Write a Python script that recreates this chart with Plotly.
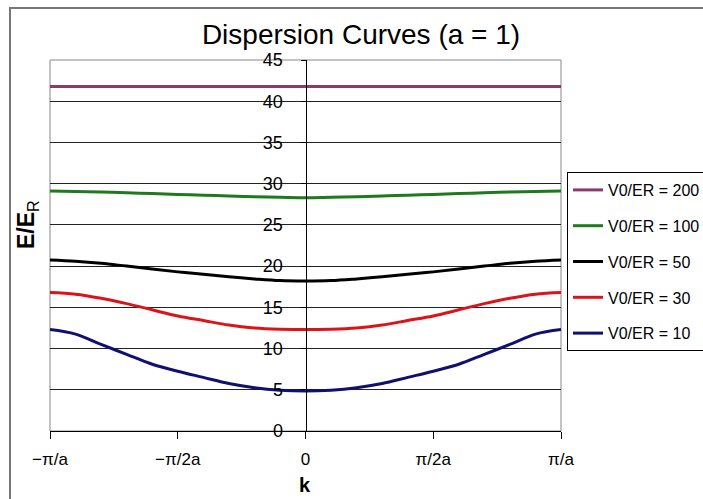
import plotly.graph_objects as go
import math

# k values in units of pi/a
k_over_pi = [-1.0, -0.9, -0.8, -0.7, -0.6, -0.5, -0.4, -0.3, -0.2, -0.1, 0.0,
             0.1, 0.2, 0.3, 0.4, 0.5, 0.6, 0.7, 0.8, 0.9, 1.0]

e_v200 = [41.8] * 21
e_v100 = [29.1, 29.05, 29.0, 28.9, 28.8, 28.7, 28.6, 28.5, 28.4, 28.35, 28.3,
          28.35, 28.4, 28.5, 28.6, 28.7, 28.8, 28.9, 29.0, 29.05, 29.1]
e_v50 = [20.75, 20.6, 20.35, 20.0, 19.65, 19.3, 19.0, 18.7, 18.45, 18.25, 18.2,
         18.25, 18.45, 18.7, 19.0, 19.3, 19.65, 20.0, 20.35, 20.6, 20.75]
e_v30 = [16.8, 16.6, 16.1, 15.45, 14.7, 13.95, 13.4, 12.85, 12.5, 12.35, 12.3,
         12.35, 12.5, 12.85, 13.4, 13.95, 14.7, 15.45, 16.1, 16.6, 16.8]
e_v10 = [12.3, 11.75, 10.5, 9.3, 8.1, 7.25, 6.5, 5.75, 5.25, 4.95, 4.85,
         4.95, 5.25, 5.75, 6.5, 7.25, 8.1, 9.3, 10.5, 11.75, 12.3]

series_names = ["V0/ER = 200", "V0/ER = 100", "V0/ER = 50", "V0/ER = 30", "V0/ER = 10"]
series_values = [e_v200, e_v100, e_v50, e_v30, e_v10]
series_colors = ["#8A3B6C", "#1F7A1F", "#000000", "#DC1419", "#101070"]

x_tick_pos = [-1.0, -0.5, 0.0, 0.5, 1.0]
x_tick_labels = ["\u2212\u03c0/a", "\u2212\u03c0/2a", "0", "\u03c0/2a", "\u03c0/a"]
y_ticks = [0, 5, 10, 15, 20, 25, 30, 35, 40, 45]

kx = [v * math.pi for v in k_over_pi]

fig = go.Figure()
for i, (name, vals, col) in enumerate(zip(series_names, series_values, series_colors)):
    fig.add_trace(go.Scatter(
        x=kx, y=vals, mode="lines", name=name,
        line=dict(color=col, width=3, shape="spline"),
        legendgroup=f"g{i}",
    ))

font = "Arial, Liberation Sans, sans-serif"

# body margin removed below, so figure coords == screen coords
PL, PR, PT, PB = 50, 561, 60, 431
W, H = 703, 499
PW, PH = PR - PL, PB - PT


def px(xs):
    return (xs - PL) / PW


def py(ys):
    return (PB - ys) / PH


fig.update_layout(
    width=W, height=H,
    margin=dict(l=PL, r=W - PR, t=PT, b=H - PB, autoexpand=False),
    paper_bgcolor="white", plot_bgcolor="white",
    font=dict(family=font, color="black"),
    title=dict(text="Dispersion Curves (a = 1)", font=dict(size=28, family=font, color="black"),
               xref="container", x=361 / W, xanchor="center",
               yref="container", y=1 - 34 / H, yanchor="middle"),
    showlegend=True,
    legend=dict(
        x=px(567), xanchor="left", y=py(172), yanchor="top",
        bordercolor="#000000", borderwidth=1, bgcolor="white",
        font=dict(size=16, family=font, color="black"),
        traceorder="grouped", tracegroupgap=12,
    ),
    xaxis=dict(
        range=[-math.pi, math.pi],
        tickmode="array", tickvals=[v * math.pi for v in x_tick_pos], ticktext=x_tick_labels,
        showgrid=False, zeroline=False,
        showline=True, linecolor="#000000", linewidth=1,
        ticks="outside", ticklen=7, tickcolor="#000000",
        tickfont=dict(size=17, family=font, color="black"),
        ticklabelstandoff=6,
    ),
    yaxis=dict(
        range=[0, 45],
        tickmode="array", tickvals=y_ticks,
        anchor="free", position=0.5,
        showgrid=True, gridcolor="#222222", gridwidth=1,
        zeroline=False,
        showline=True, linecolor="#000000", linewidth=1,
        ticks="outside", ticklen=5, tickcolor="#000000",
        tickfont=dict(size=18, family=font, color="black"),
        ticklabelstandoff=14,
    ),
    shapes=[
        dict(type="rect", xref="paper", yref="paper", x0=0, x1=1, y0=0, y1=1,
             line=dict(color="#888888", width=1), layer="below"),
        dict(type="rect", xref="paper", yref="paper",
             x0=px(10), x1=2.0, y0=-1.0, y1=py(8),
             line=dict(color="#777777", width=2)),
    ],
    annotations=[
        dict(text="<b>E/E</b><sub>R</sub>", xref="paper", yref="paper",
             x=px(27), y=py(225), textangle=-90,
             showarrow=False, font=dict(size=23, family=font, color="black"),
             xanchor="center", yanchor="middle"),
        dict(text="<b>k</b>", xref="paper", yref="paper",
             x=px(305), y=py(485), showarrow=False,
             font=dict(size=20, family=font, color="black"),
             xanchor="center", yanchor="middle"),
    ],
)

fig.write_html("out.html",
               config={"displayModeBar": False},
               post_script="document.body.style.margin='0';document.body.style.overflow='hidden';")
